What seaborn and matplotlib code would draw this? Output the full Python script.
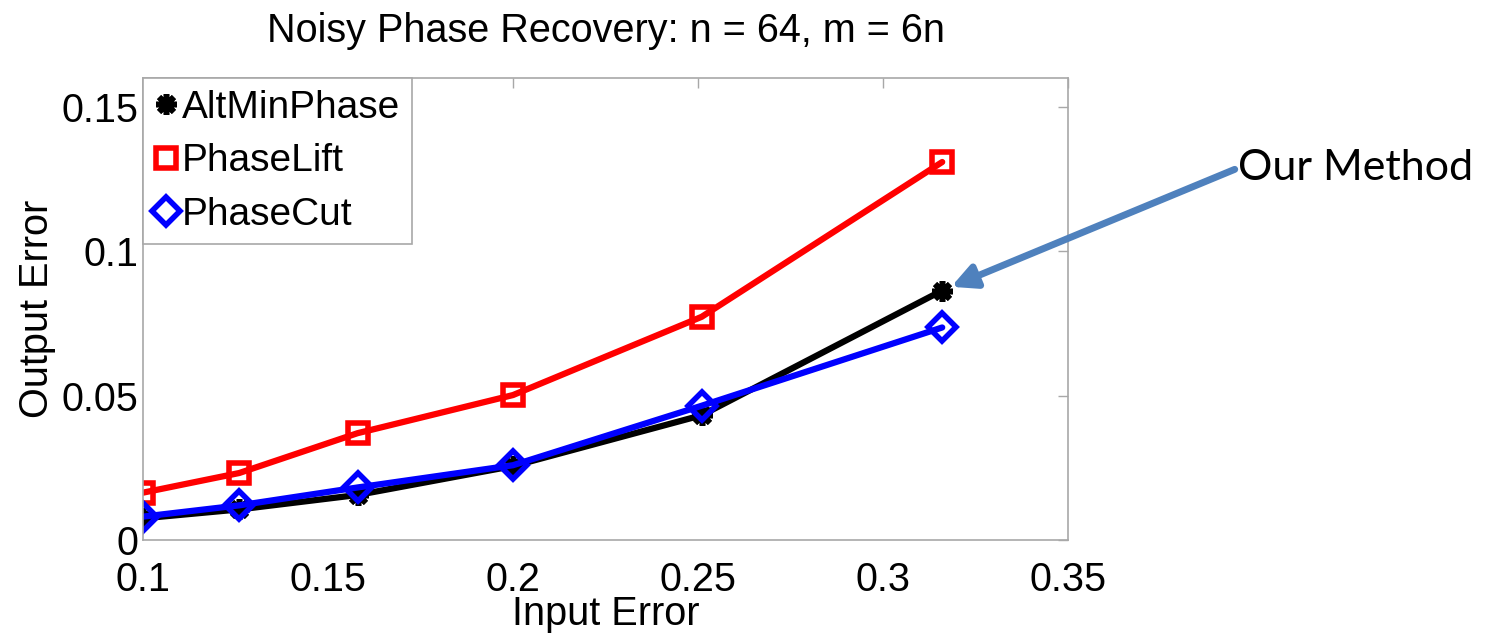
import numpy as np
import pandas as pd
import matplotlib
matplotlib.use('Agg')
import matplotlib.pyplot as plt
import matplotlib.ticker as mticker
import seaborn as sns

# values
input_error = [0.1, 0.126, 0.158, 0.2, 0.251, 0.316]
altminphase = [0.0075, 0.0106, 0.0156, 0.0256, 0.0432, 0.0864]
phaselift = [0.0164, 0.0232, 0.0370, 0.0502, 0.0773, 0.1309]
phasecut = [0.0081, 0.0120, 0.0182, 0.0259, 0.0465, 0.0736]

x_ticks = [0.1, 0.15, 0.2, 0.25, 0.3, 0.35]
y_ticks = [0, 0.05, 0.1, 0.15]

sns.set_style('white')
plt.rcParams['font.family'] = ['Liberation Sans', 'DejaVu Sans']
plt.rcParams['text.color'] = 'black'
plt.rcParams['axes.labelcolor'] = 'black'

fig = plt.figure(figsize=(14.85, 6.33), dpi=100)
ax = fig.add_axes([0.0963, 0.1469, 0.6229, 0.7299])

# draw order: black under blue, red in between
series = [
    ('AltMinPhase', altminphase, 'black', (8, 2, 0), 15, 'black'),
    ('PhaseLift', phaselift, 'red', 's', 15, 'none'),
    ('PhaseCut', phasecut, 'blue', 'D', 14, 'none'),
]
for name, vals, col, mk, ms, fc in series:
    df = pd.DataFrame({'Input Error': input_error, 'Output Error': vals})
    sns.lineplot(data=df, x='Input Error', y='Output Error', ax=ax, label=name,
                 color=col, linewidth=4.5, marker=mk, markersize=ms,
                 markeredgecolor=col, markerfacecolor=fc, markeredgewidth=4)

ax.set_xlim(0.1, 0.35)
ax.set_ylim(0, 0.16)
ax.set_xticks(x_ticks)
ax.set_yticks(y_ticks)
ax.xaxis.set_major_formatter(mticker.FormatStrFormatter('%g'))
ax.yaxis.set_major_formatter(mticker.FormatStrFormatter('%g'))

ax.tick_params(direction='in', top=True, right=True, length=7, width=1,
               color='#a8a8a8', labelsize=28.5, labelcolor='black')
ax.tick_params(axis='x', pad=15)
ax.tick_params(axis='y', pad=3)
for sp in ax.spines.values():
    sp.set_color('#a8a8a8')
    sp.set_linewidth(1.2)

ax.set_xlabel('Input Error', fontsize=28.5, labelpad=-3)
ax.set_ylabel('Output Error', fontsize=28.5, labelpad=4)
ax.set_title('Noisy Phase Recovery: n = 64, m = 6n', fontsize=28.5, pad=26)

leg = ax.legend(loc='upper left', borderaxespad=0, fontsize=28,
                handlelength=0.6, handletextpad=0.1, labelspacing=0.45,
                borderpad=0.3, fancybox=False, framealpha=1)
leg.get_frame().set_edgecolor('#a8a8a8')
leg.get_frame().set_linewidth(1.2)
for ln in leg.get_lines():
    ln.set_linestyle('None')
for t in leg.get_texts():
    t.set_color('black')

ax.annotate('Our Method', xy=(input_error[-1], altminphase[-1]),
            xytext=(1238, 633 - 168), textcoords='figure pixels',
            ha='left', va='center', fontsize=31, color='black',
            family=['Lato', 'DejaVu Sans'], annotation_clip=False,
            arrowprops=dict(arrowstyle='-|>', mutation_scale=36, lw=5,
                            color='#4F81BD', shrinkA=0, shrinkB=7,
                            relpos=(0, 0.5)))

fig.savefig('out.png', dpi=100)
